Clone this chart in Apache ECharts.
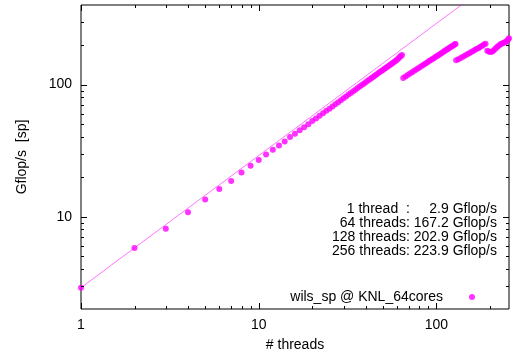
<!DOCTYPE html>
<html>
<head>
<meta charset="utf-8">
<script src="https://cdn.jsdelivr.net/npm/echarts@6/dist/echarts.min.js"></script>
<style>
  html, body { margin: 0; padding: 0; background: #fff; }
  #chart { width: 515px; height: 363px; }
</style>
</head>
<body>
<div id="chart"></div>
<script>
// measured points, 1..64 threads
const threadsA = [1, 2, 3, 4, 5, 6, 7, 8, 9, 10, 11, 12, 13, 14, 15, 16, 17, 18, 19, 20,
  21, 22, 23, 24, 25, 26, 27, 28, 29, 30, 31, 32, 33, 34, 35, 36, 37, 38, 39, 40,
  41, 42, 43, 44, 45, 46, 47, 48, 49, 50, 51, 52, 53, 54, 55, 56, 57, 58, 59, 60,
  61, 62, 63, 64];
const gflopsA = [2.9, 5.8, 8.1, 10.8, 13.5, 16.2, 18.6, 21.6, 24.3, 26.8,
  29.6, 32.1, 34.6, 37.1, 40.0, 42.4, 45.0, 47.6, 50.1, 52.9,
  55.4, 58.0, 60.6, 63.2, 65.7, 68.3, 70.9, 73.5, 76.0, 78.6,
  81.1, 84.0, 86.4, 89.0, 91.5, 94.0, 96.6, 99.1, 101.6, 104.2,
  106.6, 109.2, 111.6, 114.2, 116.6, 119.2, 121.6, 124.2, 126.6, 129.1,
  131.5, 134.0, 136.4, 138.9, 141.2, 143.6, 146.0, 148.6, 151.2, 154.0,
  157.2, 160.8, 164.6, 167.2];

// 65..128 threads
const threadsB = [65, 67, 69, 71, 73, 75, 77, 79, 81, 83, 85, 87, 89, 91, 93, 95,
  97, 99, 101, 103, 105, 107, 109, 111, 113, 115, 117, 119, 121, 123, 125, 127, 128];
const gflopsB = [112.0, 115.0, 118.0, 121.0, 124.0, 127.0, 129.9, 132.9, 135.8, 138.8,
  141.7, 144.6, 147.5, 150.4, 153.3, 156.2, 159.1, 162.0, 164.8, 167.7,
  170.6, 173.4, 176.2, 179.1, 181.9, 184.7, 187.5, 190.4, 193.1, 195.9,
  198.7, 201.5, 202.9];

// 129..256 threads
const threadsC = [129, 133, 137, 141, 145, 149, 153, 157, 161, 165, 169, 173, 177, 181, 185, 189,
  193, 197, 201, 205, 209, 213, 217, 221, 225, 229, 233, 237, 241, 245, 249, 253, 256];
const gflopsC = [152.6, 155.5, 158.8, 162.5, 166.0, 169.5, 172.8, 176.0, 179.5, 183.0,
  186.2, 189.0, 193.0, 197.0, 201.0, 204.0, 180.0, 177.5, 176.5, 177.0,
  180.0, 185.0, 190.0, 194.0, 197.5, 201.5, 204.0, 206.5, 208.5, 210.0,
  213.5, 219.0, 223.9];

// ideal scaling line from the 1-thread value
const idealThreads = [1, 256];
const idealGflops = [2.9, 742.4];

const xLabels = [1, 10, 100];
const yLabels = [10, 100];
const xMajor = [1, 10, 100];
const xMinor = [2, 3, 4, 5, 6, 7, 8, 9, 20, 30, 40, 50, 60, 70, 80, 90, 200];
const yMajor = [10, 100];
const yMinor = [3, 4, 5, 6, 7, 8, 9, 20, 30, 40, 50, 60, 70, 80, 90, 200, 300];

const notes = [
  '1 thread  :     2.9 Gflop/s',
  '64 threads: 167.2 Gflop/s',
  '128 threads: 202.9 Gflop/s',
  '256 threads: 223.9 Gflop/s'
];

const seriesName = 'wils_sp @ KNL_64cores';
const font = 'Liberation Sans, Arial, sans-serif';
const X_MIN = 1, X_MAX = 256, Y_MIN = 2, Y_MAX = 400;

const points = [];
[[threadsA, gflopsA], [threadsB, gflopsB], [threadsC, gflopsC]].forEach(([t, g]) => {
  t.forEach((n, i) => points.push([n, g[i]]));
});
const ideal = idealThreads.map((n, i) => [n, idealGflops[i]]);

const near = (v, list) => list.some(l => Math.abs(v - l) / l < 1e-6);

const tickLine = (x1, y1, x2, y2) => ({
  type: 'line',
  shape: { x1, y1, x2, y2 },
  style: { stroke: '#000', lineWidth: 1 }
});

const chart = echarts.init(document.getElementById('chart'), null, { renderer: 'canvas' });

chart.setOption({
  animation: false,
  backgroundColor: '#fff',
  textStyle: { fontFamily: font },
  grid: {
    left: 81, right: 6, top: 5, bottom: 54,
    show: true, borderColor: '#000', borderWidth: 1, backgroundColor: 'transparent'
  },
  legend: {
    data: [seriesName],
    right: 40, top: 290, padding: 0,
    align: 'right', icon: 'circle', itemWidth: 6, itemHeight: 6,
    textStyle: { fontSize: 14, color: '#000', fontFamily: font, padding: [0, 21, 0, 0] }
  },
  xAxis: {
    type: 'log', logBase: 10, min: X_MIN, max: X_MAX,
    name: '# threads', nameLocation: 'middle', nameGap: 29,
    nameTextStyle: { fontSize: 14, color: '#000', fontFamily: font },
    axisLine: { show: false }, axisTick: { show: false }, splitLine: { show: false },
    axisLabel: {
      fontSize: 14, color: '#000', margin: 9, fontFamily: font,
      formatter: v => (near(v, xLabels) ? String(Math.round(v)) : '')
    }
  },
  yAxis: {
    type: 'log', logBase: 10, min: Y_MIN, max: Y_MAX,
    name: 'Gflop/s  [sp]', nameLocation: 'middle', nameGap: 52, nameRotate: 90,
    nameTextStyle: { fontSize: 14, color: '#000', fontFamily: font },
    axisLine: { show: false }, axisTick: { show: false }, splitLine: { show: false },
    axisLabel: {
      fontSize: 14, color: '#000', margin: 9, fontFamily: font,
      formatter: v => (near(v, yLabels) ? String(Math.round(v)) : '')
    }
  },
  graphic: notes.map((t, i) => ({
    type: 'text', right: 18, top: 202 + i * 14,
    style: { text: t, fill: '#000', font: '14px ' + font, textAlign: 'right' }
  })),
  series: [
    {
      name: 'ideal', type: 'line', data: ideal, showSymbol: false, silent: true,
      lineStyle: { color: 'rgba(255,0,255,0.55)', width: 1 }, z: 2
    },
    {
      name: seriesName, type: 'scatter', data: points,
      symbol: 'circle', symbolSize: 6,
      itemStyle: { color: '#ff00ff' }, z: 3
    },
    {
      // x ticks, bottom and mirrored on top
      type: 'custom', silent: true, z: 5,
      data: xMajor.map(v => [v, 6]).concat(xMinor.map(v => [v, 3])),
      encode: { x: 0, y: 1 },
      renderItem: (params, api) => {
        const cs = params.coordSys;
        const px = Math.round(api.coord([api.value(0), Y_MIN])[0]) + 0.5;
        const len = api.value(1);
        const bot = cs.y + cs.height, top = cs.y;
        return {
          type: 'group',
          children: [tickLine(px, bot, px, bot - len), tickLine(px, top, px, top + len)]
        };
      }
    },
    {
      // y ticks, left and mirrored on right
      type: 'custom', silent: true, z: 5,
      data: yMajor.map(v => [6, v]).concat(yMinor.map(v => [3, v])),
      encode: { x: 0, y: 1 },
      renderItem: (params, api) => {
        const cs = params.coordSys;
        const py = Math.round(api.coord([X_MIN, api.value(1)])[1]) + 0.5;
        const len = api.value(0);
        const left = cs.x, right = cs.x + cs.width;
        return {
          type: 'group',
          children: [tickLine(left, py, left + len, py), tickLine(right, py, right - len, py)]
        };
      }
    }
  ]
});
</script>
</body>
</html>
